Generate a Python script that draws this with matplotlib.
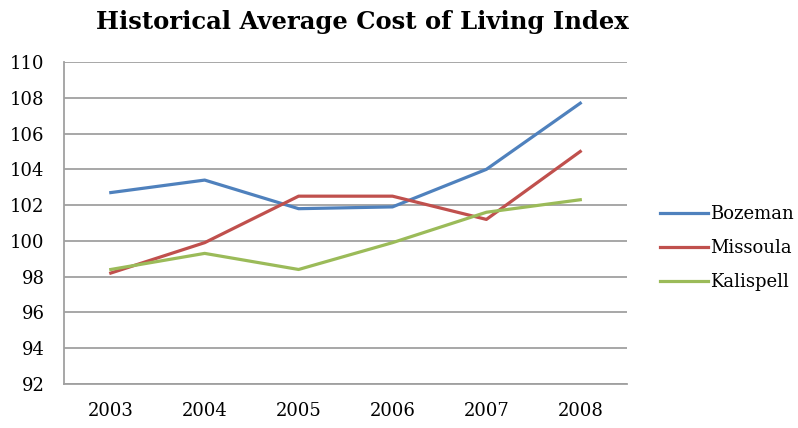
import matplotlib.pyplot as plt
import numpy as np

years = ["2003", "2004", "2005", "2006", "2007", "2008"]
bozeman = [102.7, 103.4, 101.8, 101.9, 104.0, 107.7]
missoula = [98.2, 99.9, 102.5, 102.5, 101.2, 105.0]
kalispell = [98.4, 99.3, 98.4, 99.9, 101.6, 102.3]

plt.rcParams['font.family'] = ['DejaVu Serif']

fig = plt.figure(figsize=(7.98, 4.28), dpi=100)
ax = fig.add_axes([0.080, 0.103, 0.706, 0.752])

x = np.arange(len(years))
ax.plot(x, bozeman, color='#4F81BD', lw=2.3, label='Bozeman')
ax.plot(x, missoula, color='#C0504D', lw=2.3, label='Missoula')
ax.plot(x, kalispell, color='#9BBB59', lw=2.3, label='Kalispell')

ax.set_xlim(-0.5, 5.5)
ax.set_ylim(92, 110)
ax.set_yticks(np.arange(92, 111, 2))
ax.set_xticks(x)
ax.set_xticklabels(years)
ax.tick_params(axis='both', length=0, labelsize=13)
ax.tick_params(axis='y', pad=14)
ax.tick_params(axis='x', pad=13)
ax.yaxis.grid(True, color='#a0a0a0', lw=1.3)
ax.set_axisbelow(True)
for s in ['top', 'right']:
    ax.spines[s].set_visible(False)
for s in ['left', 'bottom']:
    ax.spines[s].set_color('#a0a0a0')
    ax.spines[s].set_linewidth(1.3)

fig.text(0.454, 0.948, "Historical Average Cost of Living Index", ha='center', va='center',
         fontsize=17.5, fontweight='bold')

ax.legend(loc='center left', bbox_to_anchor=(0.827, 0.42), bbox_transform=fig.transFigure,
          frameon=False, fontsize=13, borderpad=0, borderaxespad=0,
          handlelength=2.67, labelspacing=0.9, handletextpad=0.1)

fig.savefig('out.png', dpi=100)
